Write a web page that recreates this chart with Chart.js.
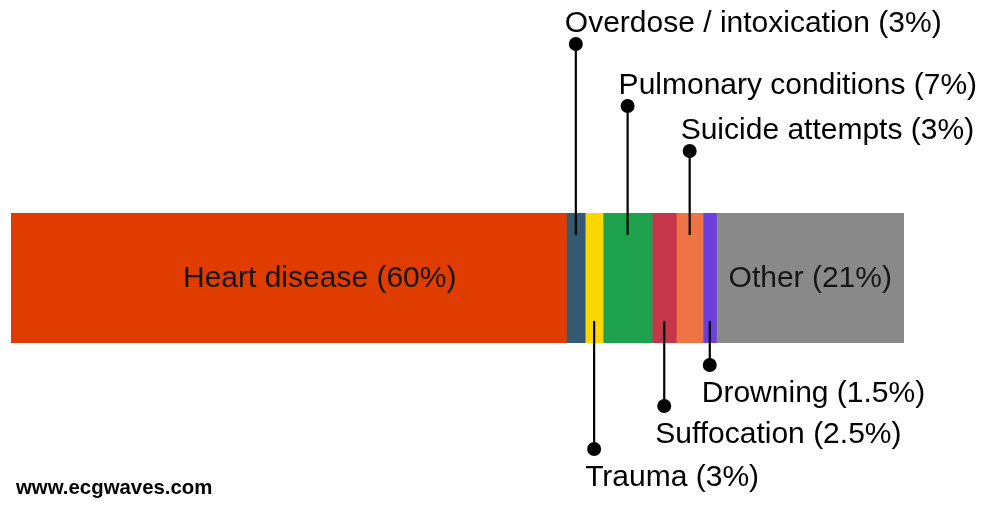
<!DOCTYPE html>
<html>
<head>
<meta charset="utf-8">
<title>Causes of sudden death</title>
<script src="https://cdn.jsdelivr.net/npm/chart.js@4.4.1/dist/chart.umd.min.js"></script>
<style>
  html, body { margin: 0; padding: 0; background: #fff; }
  #wrap { width: 1000px; height: 514px; position: relative; }
</style>
</head>
<body>
<div id="wrap"><canvas id="causeChart"></canvas></div>
<script>
// segment widths as drawn (share of the bar, %), and the text printed on each
const causes = ['Heart disease', 'Overdose / intoxication', 'Trauma', 'Pulmonary conditions',
                'Suffocation', 'Suicide attempts', 'Drowning', 'Other'];
const barShares = [62.2, 2.1, 2.0, 5.5, 2.7, 3.0, 1.5, 21.0];
const statedPercents = ['60%', '3%', '3%', '7%', '2.5%', '3%', '1.5%', '21%'];
const segmentColors = ['#e03c00', '#345a72', '#ffd700', '#1fa24e', '#c6364a', '#ee7445', '#6c3fdc', '#898989'];

// how each label is placed: inside the bar, or on a leader line above / below
const labelStyle = [
    { mode: 'inside', dx: 31 },
    { mode: 'above', dotY: 44, dx: -11 },
    { mode: 'below', dotY: 449, dx: -9 },
    { mode: 'above', dotY: 106, dx: -9 },
    { mode: 'below', dotY: 406, dx: -9 },
    { mode: 'above', dotY: 151, dx: -9 },
    { mode: 'below', dotY: 365, dx: -8 },
    { mode: 'inside', dx: 0 }
];

const calloutPlugin = {
    id: 'callouts',
    afterDatasetsDraw(chart) {
        const c = chart.ctx;
        c.save();
        c.font = '30px "Liberation Sans", Arial, sans-serif';
        c.textBaseline = 'alphabetic';
        causes.forEach(function (name, i) {
            const bar = chart.getDatasetMeta(i).data[0];
            const left = Math.min(bar.base, bar.x);
            const right = Math.max(bar.base, bar.x);
            const mid = (left + right) / 2;
            const top = bar.y - bar.height / 2;
            const bottom = bar.y + bar.height / 2;
            const text = name + ' (' + statedPercents[i] + ')';
            const st = labelStyle[i];

            if (st.mode === 'inside') {
                c.fillStyle = '#161616';
                c.textAlign = 'center';
                c.fillText(text, mid + st.dx, bar.y + 9);
                return;
            }

            c.strokeStyle = '#000';
            c.fillStyle = '#000';
            c.lineWidth = 2.2;
            c.beginPath();
            if (st.mode === 'above') {
                c.moveTo(mid, st.dotY);
                c.lineTo(mid, top + 22);
            } else {
                c.moveTo(mid, bottom - 22);
                c.lineTo(mid, st.dotY);
            }
            c.stroke();
            c.beginPath();
            c.arc(mid, st.dotY, 7, 0, Math.PI * 2);
            c.fill();

            c.textAlign = 'left';
            const ty = st.mode === 'above' ? st.dotY - 12 : st.dotY + 37;
            c.fillText(text, mid + st.dx, ty);
        });

        c.font = 'bold 20.4px "Liberation Sans", Arial, sans-serif';
        c.textAlign = 'left';
        c.fillStyle = '#000';
        c.fillText('www.ecgwaves.com', 16, 494);
        c.restore();
    }
};

const datasets = causes.map(function (name, i) {
    return {
        label: name,
        data: [barShares[i]],
        backgroundColor: segmentColors[i],
        borderWidth: 0,
        categoryPercentage: 1,
        barPercentage: 1
    };
});

const total = barShares.reduce(function (a, b) { return a + b; }, 0);

new Chart(document.getElementById('causeChart'), {
    type: 'bar',
    data: { labels: [''], datasets: datasets },
    options: {
        indexAxis: 'y',
        responsive: true,
        maintainAspectRatio: false,
        animation: false,
        layout: { padding: { left: 11, right: 96, top: 213, bottom: 171 } },
        scales: {
            x: { stacked: true, min: 0, max: total, display: false },
            y: { stacked: true, display: false }
        },
        plugins: {
            legend: { display: false },
            tooltip: { enabled: false }
        }
    },
    plugins: [calloutPlugin]
});
</script>
</body>
</html>
